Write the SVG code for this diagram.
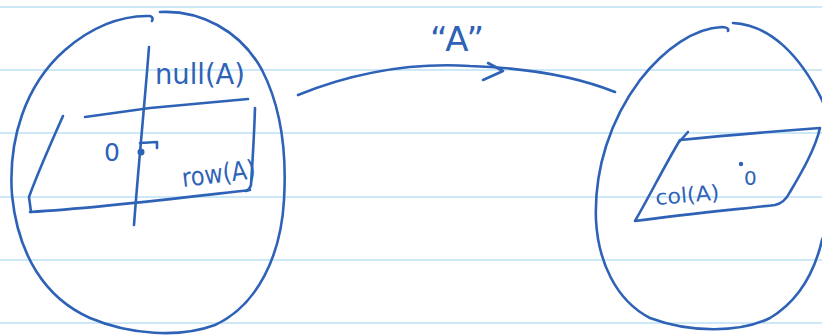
<svg xmlns="http://www.w3.org/2000/svg" width="822" height="335" viewBox="0 0 822 335">
<style>
.ink{fill:none;stroke:#2e62b6;stroke-width:2.6;stroke-linecap:round;stroke-linejoin:round}
.rule{stroke:#cde9f8;stroke-width:2}
.hand{font-family:"DejaVu Sans","Liberation Sans",sans-serif;fill:#2e62b6}
</style>
<rect width="822" height="335" fill="#ffffff"/>
<g id="paper">
<line class="rule" x1="0" y1="7" x2="822" y2="7"/>
<line class="rule" x1="0" y1="70" x2="822" y2="70"/>
<line class="rule" x1="0" y1="133" x2="822" y2="133"/>
<line class="rule" x1="0" y1="197" x2="822" y2="197"/>
<line class="rule" x1="0" y1="260" x2="822" y2="260"/>
<line class="rule" x1="0" y1="323" x2="822" y2="323"/>
</g>
<g id="domain">
<path class="ink" d="M160,12 C200,10 240,30 262,70 C280,105 287,150 284,200 C281,255 258,305 215,325 C180,338 130,335 90,318 C45,298 18,255 12,195 C8,140 25,85 65,50 C90,28 120,15 150,16 C153,17 153,19 152,21"/>
<path class="ink" d="M85,117 L150,108 L248,99"/>
<path class="ink" d="M255,108 C254,140 252,170 251,185 C250,188 249,190 246,191"/>
<path class="ink" d="M250,190 C180,198 100,208 30,212"/>
<path class="ink" d="M63,116 C50,145 37,175 29,197 L31,212"/>
<path class="ink" d="M149,47 C145,100 138,170 134,225"/>
<circle cx="141" cy="152" r="3.5" fill="#2e62b6"/>
<path class="ink" d="M140,143 L157,142 L157,148"/>
<text class="hand" x="104" y="161" font-size="25">0</text>
<text class="hand" x="155" y="84" font-size="28" textLength="90" lengthAdjust="spacingAndGlyphs">null(A)</text>
<text class="hand" x="183" y="187" font-size="26" textLength="74" lengthAdjust="spacingAndGlyphs" transform="rotate(-7 183 187)">row(A)</text>
</g>
<g id="codomain">
<path class="ink" d="M733,23 C770,25 800,55 822,100 C838,140 838,200 822,240 C815,270 800,300 770,318 C740,333 690,333 650,318 C615,300 598,260 596,220 C594,170 610,120 640,80 C665,48 695,28 722,27 C727,27 729,29 728,31"/>
<path class="ink" d="M688,132 L680,141"/>
<path class="ink" d="M680,140 C720,136 780,131 820,128 C815,150 800,175 790,192 C786,200 780,204 775,205 C730,210 680,215 635,221 C650,195 665,165 680,140"/>
<text class="hand" x="656" y="205" font-size="21" textLength="64" lengthAdjust="spacingAndGlyphs" transform="rotate(-5 656 205)">col(A)</text>
<circle cx="741" cy="164" r="2.2" fill="#2e62b6"/>
<text class="hand" x="744" y="185" font-size="20">0</text>
</g>
<g id="connectors">
<path class="ink" d="M298,95 C360,70 420,63 470,66 C530,68 580,78 615,92"/>
<path class="ink" d="M488,63 L503,71 L483,80"/>
<text class="hand" x="430" y="51" font-size="34" textLength="54" lengthAdjust="spacing">“A”</text>
</g>
</svg>
